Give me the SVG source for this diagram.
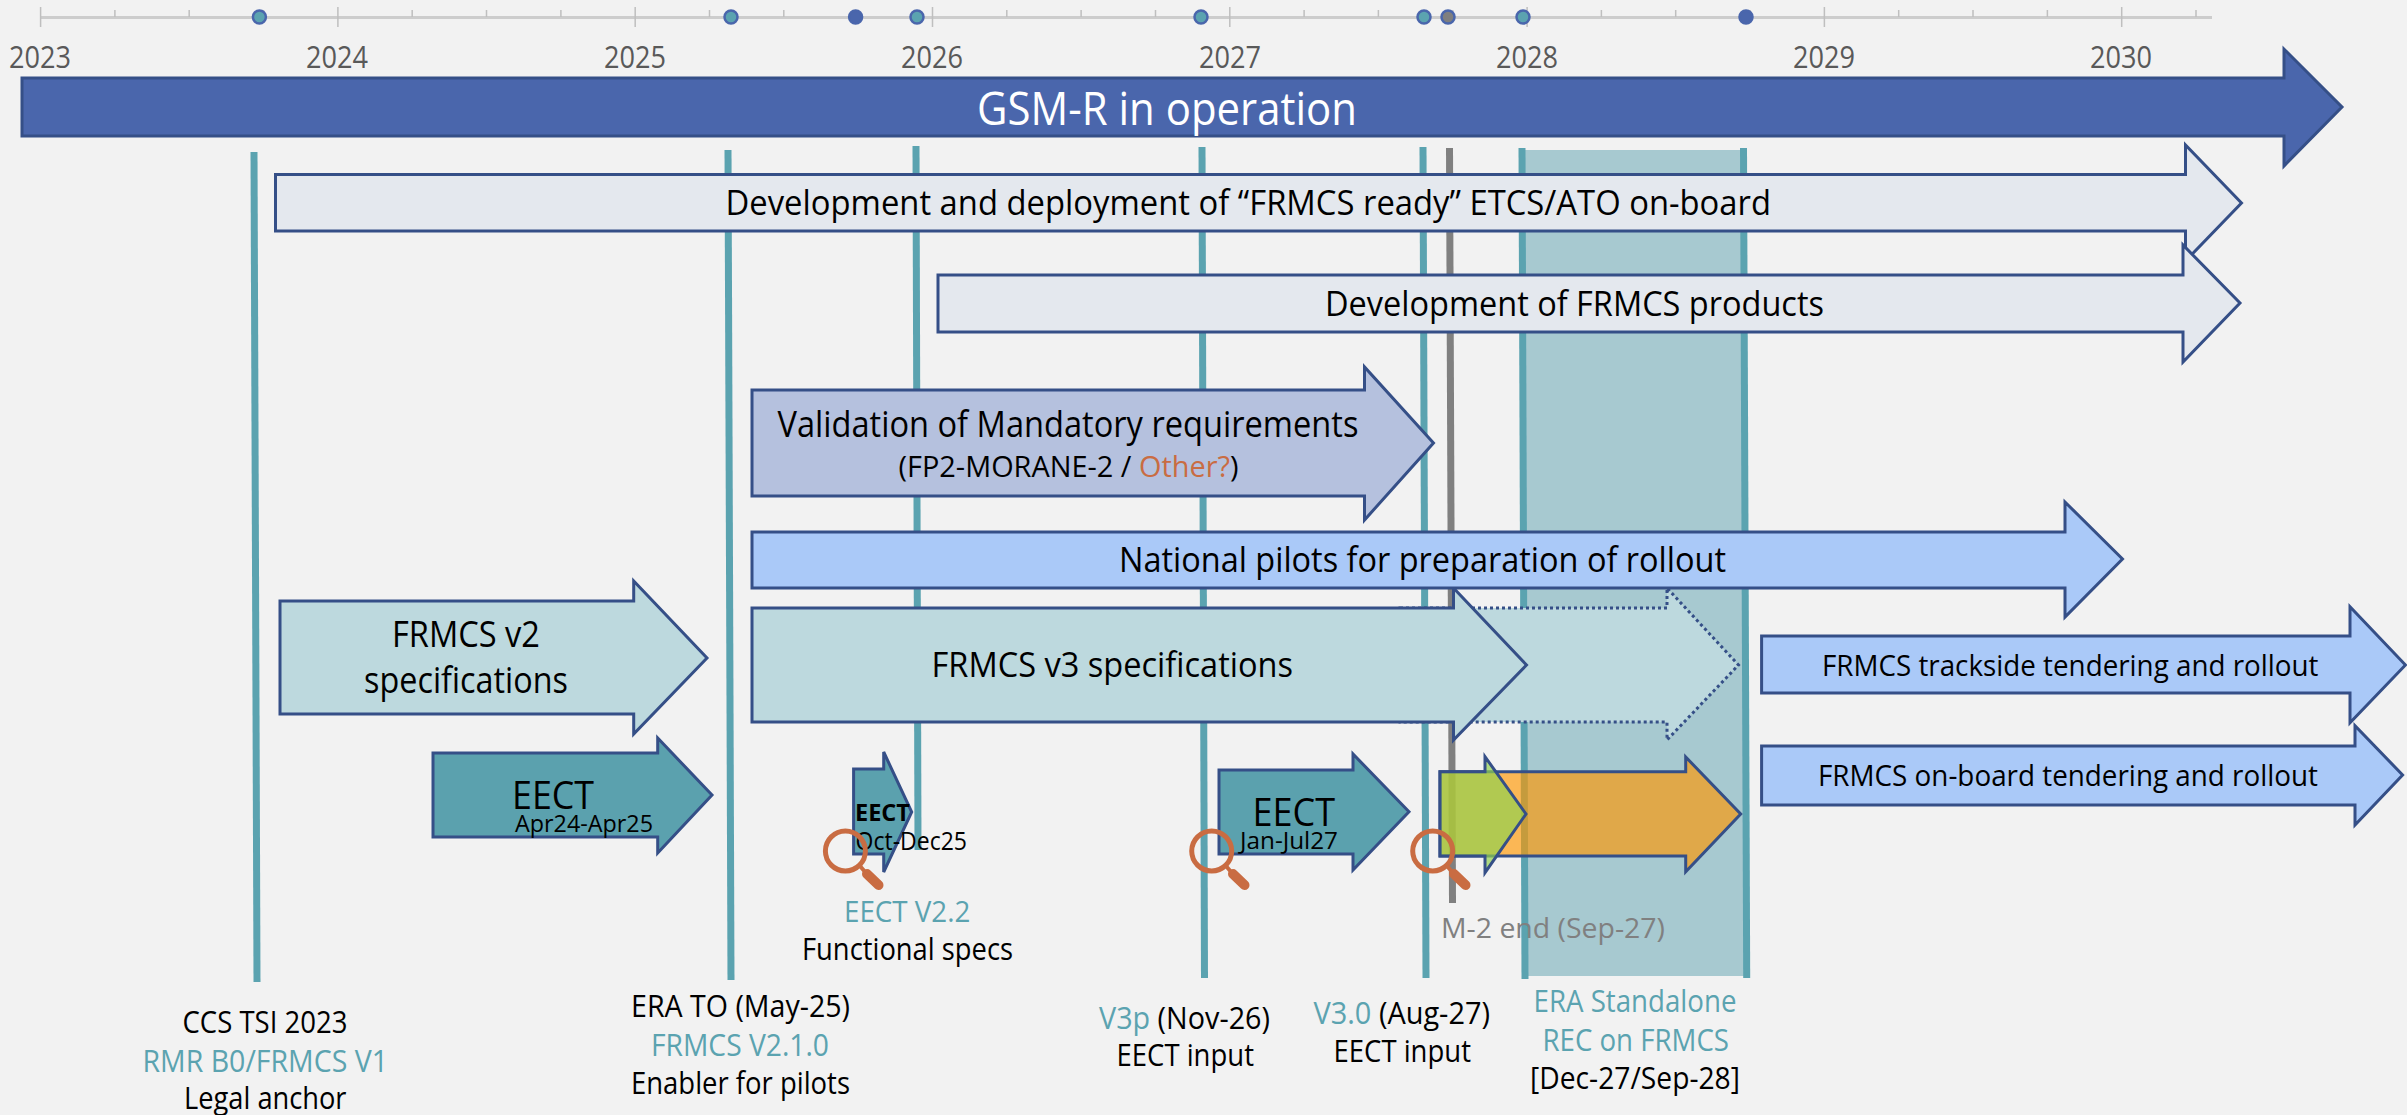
<svg xmlns="http://www.w3.org/2000/svg" width="2407" height="1115" viewBox="0 0 2407 1115">
<style>
text{font-family:"Open Sans","Lato","Liberation Sans",sans-serif;fill:#000;white-space:pre}
.yr{font-size:31px;fill:#595959}
.teal{fill:#5BA3B0}
.or{fill:#C96C42}
.grey{fill:#808080}
.a{stroke:#354F87;stroke-width:3;stroke-linejoin:miter}
.ms{stroke:#5BA3B0;stroke-width:7;fill:none}
.dot{stroke:#4A66AC;stroke-width:2.5}
.mag circle{fill:none;stroke:#C96C42;stroke-width:5}
.mag path{fill:none;stroke:#C96C42;stroke-linecap:round}
</style>
<rect width="2407" height="1115" fill="#F2F2F2"/>

<g id="time-axis">
<path d="M40.6 17.5H2212" stroke="#CDCDCD" stroke-width="3" fill="none"/>
<path d="M40.6 7V27M337.9 7V27M635.2 7V27M932.5 7V27M1229.8 7V27M1527.1 7V27M1824.4 7V27M2121.7 7V27" stroke="#BFBFBF" stroke-width="1.5" fill="none"/>
<path d="M114.9 10V17M189.2 10V17M263.6 10V17M412.2 10V17M486.5 10V17M560.9 10V17M709.5 10V17M783.8 10V17M858.2 10V17M1006.8 10V17M1081.1 10V17M1155.5 10V17M1304.1 10V17M1378.4 10V17M1452.8 10V17M1601.4 10V17M1675.7 10V17M1750.1 10V17M1898.7 10V17M1973 10V17M2047.4 10V17M2196 10V17" stroke="#BFBFBF" stroke-width="1.5" fill="none"/>
<circle class="dot" cx="259.4" cy="17" r="6.5" fill="#5BA3B0"/>
<circle class="dot" cx="731" cy="17" r="6.5" fill="#5BA3B0"/>
<circle class="dot" cx="855.6" cy="17" r="6.5" fill="#4A66AC"/>
<circle class="dot" cx="917" cy="17" r="6.5" fill="#5BA3B0"/>
<circle class="dot" cx="1201" cy="17" r="6.5" fill="#5BA3B0"/>
<circle class="dot" cx="1424" cy="17" r="6.5" fill="#5BA3B0"/>
<circle class="dot" cx="1448" cy="17" r="6.5" fill="#7F7F7F"/>
<circle class="dot" cx="1523" cy="17" r="6.5" fill="#5BA3B0"/>
<circle class="dot" cx="1746" cy="17" r="6.5" fill="#4A66AC"/>
<text class="yr" x="9" y="68" textLength="62" lengthAdjust="spacingAndGlyphs">2023</text>
<text class="yr" x="306" y="68" textLength="62" lengthAdjust="spacingAndGlyphs">2024</text>
<text class="yr" x="604" y="68" textLength="62" lengthAdjust="spacingAndGlyphs">2025</text>
<text class="yr" x="901" y="68" textLength="62" lengthAdjust="spacingAndGlyphs">2026</text>
<text class="yr" x="1199" y="68" textLength="62" lengthAdjust="spacingAndGlyphs">2027</text>
<text class="yr" x="1496" y="68" textLength="62" lengthAdjust="spacingAndGlyphs">2028</text>
<text class="yr" x="1793" y="68" textLength="62" lengthAdjust="spacingAndGlyphs">2029</text>
<text class="yr" x="2090" y="68" textLength="62" lengthAdjust="spacingAndGlyphs">2030</text>
</g>

<g id="rec-band"><path d="M1522 150H1744L1746.7 976H1525Z" fill="#A7C9D0"/></g>

<g id="connectors">
<path class="ms" d="M254 152L257 982"/>
<path class="ms" d="M728 150L731 980"/>
<path class="ms" d="M916 146L918 850"/>
<path class="ms" d="M1202 147L1204.5 978"/>
<path class="ms" d="M1423 147L1426 978"/>
<path class="ms" style="stroke:#808080" d="M1449.5 148L1452.5 903"/>
<path class="ms" d="M1522 148L1525 979"/>
<path class="ms" d="M1743.5 148L1746.7 978"/>
</g>

<g id="gsmr">
<path class="a" fill="#4A66AC" d="M22 78H2284V49L2342 107L2284 166V136H22Z"/>
<text x="977" y="125" font-size="46" style="fill:#fff" textLength="380" lengthAdjust="spacingAndGlyphs">GSM-R in operation</text>
</g>

<g id="dev-etcs">
<path class="a" fill="#E4E8EE" d="M275.5 174.5H2185.5V145L2241.5 203L2185.5 261V231H275.5Z"/>
<text x="725.5" y="215" font-size="34" textLength="1045.5" lengthAdjust="spacingAndGlyphs">Development and deployment of “FRMCS ready” ETCS/ATO on-board</text>
</g>

<g id="dev-products">
<path class="a" fill="#E4E8EE" d="M938 275H2183V245L2240 303L2183 362V332H938Z"/>
<text x="1325" y="316" font-size="34" textLength="499" lengthAdjust="spacingAndGlyphs">Development of FRMCS products</text>
</g>

<g id="validation">
<path class="a" fill="#B5C1DE" d="M752 390H1364.5V367L1433.5 443L1364.5 520V496H752Z"/>
<text x="777.5" y="437" font-size="36" textLength="581" lengthAdjust="spacingAndGlyphs">Validation of Mandatory requirements</text>
<text x="898.5" y="477" font-size="30" textLength="340" lengthAdjust="spacingAndGlyphs">(FP2-MORANE-2 / <tspan class="or">Other?</tspan>)</text>
</g>

<g id="v3-extension">
<path class="a" style="stroke-dasharray:3 3" fill="#BDD9DE" d="M1400 608H1667V588L1738.5 665L1667 740V722H1400Z"/>
</g>

<g id="v3">
<path class="a" fill="#BDD9DE" d="M752 608H1453.5V588L1526.5 665L1453.5 740V722H752Z"/>
<text x="931.5" y="677" font-size="35" textLength="361.5" lengthAdjust="spacingAndGlyphs">FRMCS v3 specifications</text>
</g>

<g id="national-pilots">
<path class="a" fill="#AAC9F8" d="M752 532H2065V502L2122.5 559L2065 617V588H752Z"/>
<text x="1119" y="572" font-size="35" textLength="607" lengthAdjust="spacingAndGlyphs">National pilots for preparation of rollout</text>
</g>

<g id="v2">
<path class="a" fill="#BDD9DE" d="M280 601H633.7V581L707 658L633.7 734V714H280Z"/>
<text x="392" y="647" font-size="37" textLength="148" lengthAdjust="spacingAndGlyphs">FRMCS v2</text>
<text x="364" y="692.7" font-size="37" textLength="204" lengthAdjust="spacingAndGlyphs">specifications</text>
</g>

<g id="eect-1">
<path class="a" fill="#5BA1AE" d="M433 753H657.7V738L712 795L657.7 853V837H433Z"/>
<text x="512" y="809" font-size="39" textLength="82" lengthAdjust="spacingAndGlyphs">EECT</text>
<text x="515" y="831.7" font-size="24" textLength="138" lengthAdjust="spacingAndGlyphs">Apr24-Apr25</text>
</g>

<g id="eect-2">
<path class="a" fill="#5BA1AE" d="M853.6 769H883.7V752L911.7 812L883.7 872V854H853.6Z"/>
<text x="855" y="820.7" font-size="24" font-weight="700" textLength="55" lengthAdjust="spacingAndGlyphs">EECT</text>
<text x="855.6" y="850" font-size="25" textLength="111.4" lengthAdjust="spacingAndGlyphs">Oct-Dec25</text>
</g>

<g id="eect-3">
<path class="a" fill="#5BA1AE" d="M1219 770H1353V754L1409 811.7L1353 870V854H1219Z"/>
<text x="1252.5" y="825.7" font-size="39" textLength="82.5" lengthAdjust="spacingAndGlyphs">EECT</text>
<text x="1240" y="849" font-size="24" textLength="98" lengthAdjust="spacingAndGlyphs">Jan-Jul27</text>
</g>

<g id="orange-arrow">
<path class="a" fill="#FF9700" fill-opacity=".65" d="M1440 771.7H1685.7V757L1740.7 814L1685.7 871.7V856H1440Z"/>
</g>
<g id="green-arrow">
<path class="a" fill="#92D050" fill-opacity=".7" d="M1440 771.7H1485V756.7L1526 814L1485 872.7V856H1440Z"/>
</g>

<g id="trackside">
<path class="a" fill="#AAC9F8" d="M1761.6 636H2350V606.7L2405.5 665L2350 722.7V693H1761.6Z"/>
<text x="1822" y="676" font-size="30" textLength="496.4" lengthAdjust="spacingAndGlyphs">FRMCS trackside tendering and rollout</text>
</g>

<g id="onboard">
<path class="a" fill="#AAC9F8" d="M1761.6 746H2355V725.7L2402.6 775L2355 825V805H1761.6Z"/>
<text x="1818" y="786" font-size="30" textLength="500" lengthAdjust="spacingAndGlyphs">FRMCS on-board tendering and rollout</text>
</g>

<g id="mag-1" class="mag">
<circle cx="845.4" cy="851" r="20"/>
<path d="M860 866L866 873" stroke-width="4"/><path d="M867 874L878.5 885" stroke-width="10"/>
</g>
<g id="mag-2" class="mag">
<circle cx="1211.7" cy="851" r="20"/>
<path d="M1226 866L1232 873" stroke-width="4"/><path d="M1233 874L1244.5 885" stroke-width="10"/>
</g>
<g id="mag-3" class="mag">
<circle cx="1432.7" cy="851" r="20"/>
<path d="M1447 866L1453 873" stroke-width="4"/><path d="M1454 874L1465.5 885" stroke-width="10"/>
</g>

<g id="label-ccs">
<text x="182.5" y="1032.7" font-size="31" textLength="165" lengthAdjust="spacingAndGlyphs">CCS TSI 2023</text>
<text class="teal" x="142.5" y="1071.7" font-size="31" textLength="245.5" lengthAdjust="spacingAndGlyphs">RMR B0/FRMCS V1</text>
<text x="184" y="1109" font-size="31" textLength="162.5" lengthAdjust="spacingAndGlyphs">Legal anchor</text>
</g>
<g id="label-era-to">
<text x="631" y="1017" font-size="31" textLength="219" lengthAdjust="spacingAndGlyphs">ERA TO (May-25)</text>
<text class="teal" x="651" y="1056" font-size="31" textLength="178" lengthAdjust="spacingAndGlyphs">FRMCS V2.1.0</text>
<text x="631" y="1094" font-size="31" textLength="219" lengthAdjust="spacingAndGlyphs">Enabler for pilots</text>
</g>
<g id="label-eect-v22">
<text class="teal" x="844" y="921.7" font-size="30" textLength="126.4" lengthAdjust="spacingAndGlyphs">EECT V2.2</text>
<text x="802" y="960" font-size="31" textLength="211" lengthAdjust="spacingAndGlyphs">Functional specs</text>
</g>
<g id="label-v3p">
<text x="1099" y="1029" font-size="31" textLength="171" lengthAdjust="spacingAndGlyphs"><tspan class="teal">V3p</tspan> (Nov-26)</text>
<text x="1116.5" y="1066" font-size="31" textLength="137.5" lengthAdjust="spacingAndGlyphs">EECT input</text>
</g>
<g id="label-v30">
<text x="1313.5" y="1024" font-size="31" textLength="176.5" lengthAdjust="spacingAndGlyphs"><tspan class="teal">V3.0</tspan> (Aug-27)</text>
<text x="1333.5" y="1062" font-size="31" textLength="137.5" lengthAdjust="spacingAndGlyphs">EECT input</text>
</g>
<g id="label-era-rec">
<text class="teal" x="1533.5" y="1011.7" font-size="31" textLength="203" lengthAdjust="spacingAndGlyphs">ERA Standalone</text>
<text class="teal" x="1542.5" y="1050.7" font-size="31" textLength="186.5" lengthAdjust="spacingAndGlyphs">REC on FRMCS</text>
<text x="1530" y="1089" font-size="31" textLength="210" lengthAdjust="spacingAndGlyphs">[Dec-27/Sep-28]</text>
</g>
<g id="label-m2">
<text class="grey" x="1441" y="938" font-size="28" textLength="224" lengthAdjust="spacingAndGlyphs">M-2 end (Sep-27)</text>
</g>
</svg>
